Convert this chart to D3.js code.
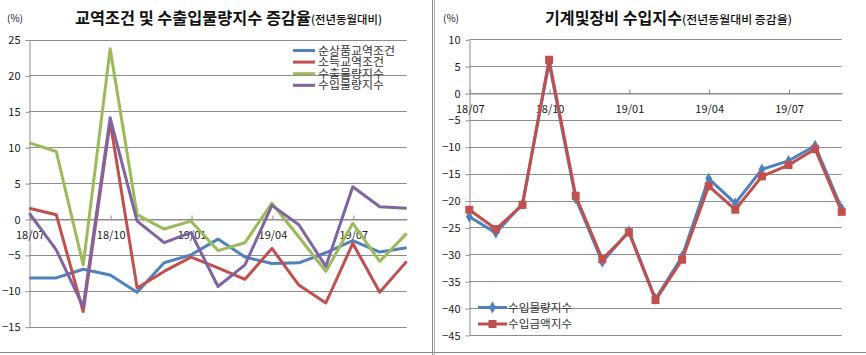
<!DOCTYPE html>
<html><head><meta charset="utf-8">
<script src="https://cdn.jsdelivr.net/npm/d3@7"></script>
<style>
html,body{margin:0;padding:0;background:#fff;}
svg{display:block;font-family:"Noto Sans CJK KR","Noto Sans",sans-serif;}
</style></head>
<body>
<svg id="c" width="866" height="355"></svg>
<script>
// ---------- data ----------
const months = ["18/07","18/08","18/09","18/10","18/11","18/12","19/01","19/02","19/03","19/04","19/05","19/06","19/07","19/08","19/09"];
const tickLabels = ["18/07","18/10","19/01","19/04","19/07"];

// left chart
const leftNames = ["순상품교역조건","소득교역조건","수출물량지수","수입물량지수"];
const netTerms    = [-8.2,-8.2,-7.0,-7.8,-10.2,-6.1,-5.0,-2.8,-5.3,-6.2,-6.1,-4.7,-3.0,-4.6,-4.0];
const incomeTerms = [1.5,0.6,-12.9,13.5,-9.6,-7.3,-5.3,-6.8,-8.4,-4.1,-9.2,-11.7,-3.4,-10.2,-5.9];
const exportVol   = [10.6,9.4,-6.4,23.7,0.6,-1.4,-0.3,-4.4,-3.3,2.2,-2.5,-7.3,-0.6,-5.9,-2.0];
const importVol   = [0.8,-4.3,-12.2,14.1,-0.3,-3.3,-1.9,-9.4,-6.4,1.9,-0.8,-6.6,4.5,1.7,1.5];
const leftTicks = [25,20,15,10,5,0,-5,-10,-15];

// right chart
const rightNames = ["수입물량지수","수입금액지수"];
const machVol   = [-23.0,-26.0,-20.6,5.6,-19.6,-31.4,-25.7,-38.3,-30.4,-15.9,-20.5,-14.2,-12.6,-9.8,-21.5];
const machValue = [-21.7,-25.3,-20.8,6.2,-19.1,-30.9,-25.9,-38.5,-31.0,-17.3,-21.7,-15.5,-13.4,-10.4,-22.1];
const rightTicks = [10,5,0,-5,-10,-15,-20,-25,-30,-35,-40,-45];

const colors = ["#4F81BD","#C0504D","#9BBB59","#8064A2"];
const gridColor = "#8c8c8c";
const textColor = "#1a1a1a";

const svg = d3.select("#c");

// frame lines
svg.append("line").attr("x1",432.5).attr("x2",432.5).attr("y1",0).attr("y2",355).attr("stroke","#8a8a8a");
svg.append("line").attr("x1",434.5).attr("x2",434.5).attr("y1",0).attr("y2",355).attr("stroke","#b0b0b0");
svg.append("line").attr("x1",0).attr("x2",866).attr("y1",352.5).attr("y2",352.5).attr("stroke","#8a8a8a");

function panel(cfg){
  const g = svg.append("g");
  const x = d3.scalePoint().domain(months).range([cfg.x0,cfg.x1]);
  const y = d3.scaleLinear().domain(cfg.domain).range([cfg.yBottom,cfg.yTop]);
  // gridlines
  g.append("g").selectAll("line").data(cfg.ticks).join("line")
    .attr("x1",cfg.x0).attr("x2",cfg.x1)
    .attr("y1",d=>Math.round(y(d))+0.5).attr("y2",d=>Math.round(y(d))+0.5)
    .attr("stroke",gridColor).attr("stroke-width",1);
  // y axis
  const ya = g.append("g").attr("transform",`translate(${Math.round(cfg.x0)+0.5},0.5)`)
    .call(d3.axisLeft(y).tickValues(cfg.ticks).tickSize(4).tickSizeOuter(0).tickFormat(d3.format("d")));
  ya.select(".domain").attr("stroke",gridColor);
  ya.selectAll(".tick line").attr("stroke",gridColor);
  ya.selectAll("text").attr("fill",textColor).attr("font-size","11px").attr("font-family","'Noto Sans CJK KR',sans-serif").attr("dx","-2px");
  // x axis at zero
  const xa = g.append("g").attr("transform",`translate(0.5,${Math.round(y(0))+0.5})`)
    .call(d3.axisBottom(x).tickValues(tickLabels).tickSize(-4).tickSizeOuter(0).tickPadding(12));
  xa.select(".domain").attr("stroke",gridColor);
  xa.selectAll(".tick line").attr("stroke",gridColor);
  xa.selectAll("text").attr("fill",textColor).attr("font-size","11px").attr("font-family","'Noto Sans CJK KR',sans-serif");
  // unit
  g.append("text").attr("x",cfg.unitX).attr("y",cfg.unitY).attr("font-size","10px").attr("fill",textColor).text("(%)");
  // title
  const t = g.append("text").attr("x",cfg.titleX).attr("y",cfg.titleY).attr("fill","#111");
  t.append("tspan").attr("font-size","16px").attr("font-weight","700")
    .attr("textLength",cfg.mainW).attr("lengthAdjust","spacingAndGlyphs").text(cfg.title);
  t.append("tspan").attr("font-size","11.5px").attr("font-weight","500")
    .attr("textLength",cfg.subW).attr("lengthAdjust","spacingAndGlyphs").text(cfg.subtitle);
  return {g,x,y};
}

// ---------- left ----------
const L = panel({x0:29.3,x1:406.7,yTop:39.5,yBottom:326.7,domain:[-15,25],ticks:leftTicks,
  unitX:7,unitY:22,titleX:75,titleY:24,title:"교역조건 및 수출입물량지수 증감율",subtitle:"(전년동월대비)",mainW:236,subW:71});
const leftSeries = [netTerms,incomeTerms,exportVol,importVol];
const lineL = d3.line().x((d,i)=>L.x(months[i])).y(d=>L.y(d));
leftSeries.forEach((s,k)=>{
  L.g.append("path").datum(s).attr("d",lineL).attr("fill","none")
    .attr("stroke",colors[k]).attr("stroke-width",3).attr("stroke-linejoin","round");
});
// legend left
leftNames.forEach((n,k)=>{
  const yy = 50.5 + k*11.6;
  L.g.append("line").attr("x1",293).attr("x2",315).attr("y1",yy).attr("y2",yy).attr("stroke",colors[k]).attr("stroke-width",3);
  L.g.append("text").attr("x",318).attr("y",yy+4).attr("font-size","11px").attr("fill","#333")
    .attr("textLength",n.length*11).attr("lengthAdjust","spacingAndGlyphs").text(n);
});

// ---------- right ----------
const R = panel({x0:469.3,x1:841.7,yTop:39.3,yBottom:335,domain:[-45,10],ticks:rightTicks,
  unitX:443,unitY:22,titleX:545,titleY:24,title:"기계및장비 수입지수",subtitle:"(전년동월대비 증감율)",mainW:137,subW:110});
const lineR = d3.line().x((d,i)=>R.x(months[i])).y(d=>R.y(d));
const diamond = d3.symbol().type(d3.symbolDiamond).size(40);
const square = d3.symbol().type(d3.symbolSquare).size(64);
R.g.append("path").datum(machVol).attr("d",lineR).attr("fill","none").attr("stroke",colors[0]).attr("stroke-width",3).attr("stroke-linejoin","round");
R.g.append("g").selectAll("path").data(machVol).join("path")
  .attr("transform",(d,i)=>`translate(${R.x(months[i])},${R.y(d)})`).attr("d",diamond).attr("fill",colors[0]);
R.g.append("path").datum(machValue).attr("d",lineR).attr("fill","none").attr("stroke",colors[1]).attr("stroke-width",3).attr("stroke-linejoin","round");
R.g.append("g").selectAll("path").data(machValue).join("path")
  .attr("transform",(d,i)=>`translate(${R.x(months[i])},${R.y(d)})`).attr("d",square).attr("fill",colors[1]);
// legend right
rightNames.forEach((n,k)=>{
  const yy = 307.5 + k*16.5;
  R.g.append("line").attr("x1",478).attr("x2",507).attr("y1",yy).attr("y2",yy).attr("stroke",colors[k]).attr("stroke-width",3);
  R.g.append("path").attr("transform",`translate(492.5,${yy})`).attr("d",k===0?diamond:square).attr("fill",colors[k]);
  R.g.append("text").attr("x",508).attr("y",yy+4).attr("font-size","11.5px").attr("fill","#333")
    .attr("textLength",n.length*10.7).attr("lengthAdjust","spacingAndGlyphs").text(n);
});
</script>
</body></html>
